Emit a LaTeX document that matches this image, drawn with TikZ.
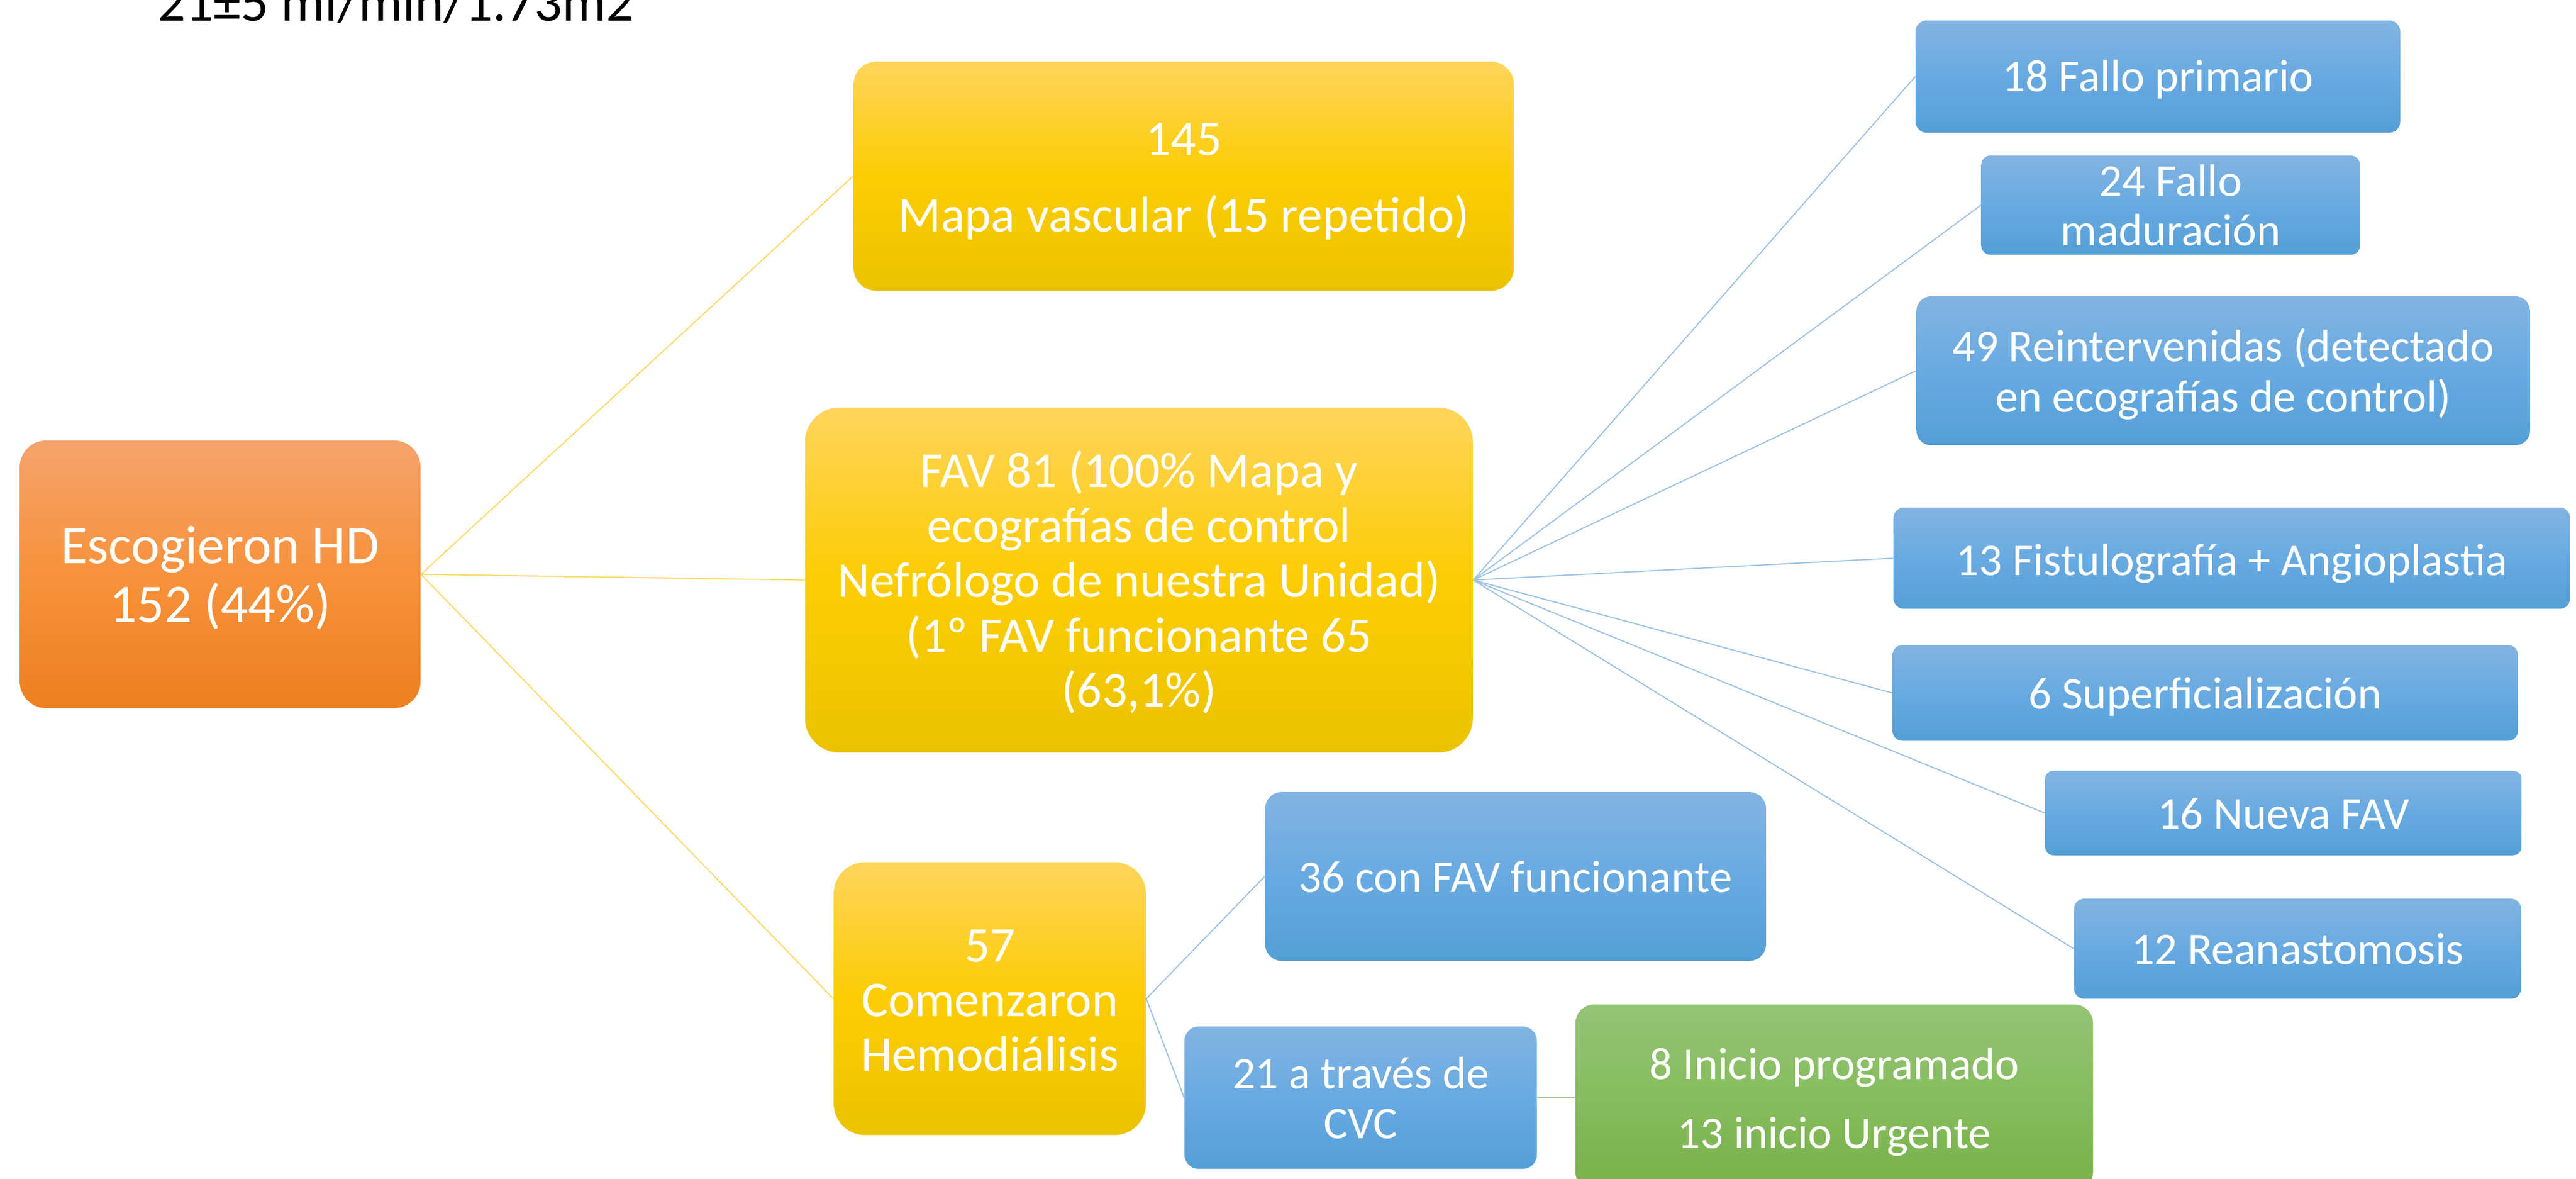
\documentclass[tikz,border=0pt]{standalone}
\usepackage{fontspec}
\setmainfont{Carlito}
\definecolor{orgT}{RGB}{245,163,108}
\definecolor{orgM}{RGB}{247,146,60}
\definecolor{orgB}{RGB}{237,127,32}
\definecolor{ylwT}{RGB}{255,212,92}
\definecolor{ylwM}{RGB}{252,205,3}
\definecolor{ylwB}{RGB}{235,195,0}
\definecolor{bluT}{RGB}{131,180,226}
\definecolor{bluM}{RGB}{104,170,225}
\definecolor{bluB}{RGB}{84,159,214}
\definecolor{grnT}{RGB}{148,196,118}
\definecolor{grnM}{RGB}{134,188,94}
\definecolor{grnB}{RGB}{120,177,74}
\definecolor{ylwLine}{RGB}{255,217,102}
\definecolor{bluLine}{RGB}{155,194,230}
\definecolor{grnLine}{RGB}{169,209,142}
% text block lowered by #1, keeping its declared size
\newcommand\lines[2]{\raisebox{-#1}[\height][\depth]{\begin{tabular}{@{}c@{}}#2\end{tabular}}}
\tikzset{
  boxbase/.style={shading=axis, draw=none, text=white, align=center, inner sep=0pt},
  obox/.style={boxbase, top color=orgT, bottom color=orgB, middle color=orgM},
  ybox/.style={boxbase, top color=ylwT, bottom color=ylwB, middle color=ylwM},
  bbox/.style={boxbase, top color=bluT, bottom color=bluB, middle color=bluM},
  gbox/.style={boxbase, top color=grnT, bottom color=grnB, middle color=grnM},
  bigfont/.style={font=\fontsize{26pt}{28.45pt}\selectfont},
  smallfont/.style={font=\fontsize{23.6pt}{26pt}\selectfont},
  ylink/.style={draw=ylwLine, line width=0.6pt},
  blink/.style={draw=bluLine, line width=0.6pt},
  glink/.style={draw=grnLine, line width=0.6pt}
}
\begin{document}
\begin{tikzpicture}[x=0.3mm, y=-0.3mm]
\useasboundingbox (0,0) rectangle (1568,717.4);
% top text
\node[anchor=base west, inner sep=0pt, font=\fontsize{28.5pt}{34pt}\selectfont] (gfr) at (96,12.7) {21±5 ml/min/1.73m2};
% left
\node[obox, minimum width=73.2mm, minimum height=48.9mm, rounded corners=4.9mm,
      font=\fontsize{28.2pt}{30.56pt}\selectfont] (esc) at (134,349.5) {\lines{1.24mm}{Escogieron HD\\152 (44\%)}};
% middle column
\node[ybox, minimum width=120.6mm, minimum height=41.85mm, rounded corners=4.2mm,
      font=\fontsize{26pt}{39.6pt}\selectfont] (mapa) at (720.5,107.25) {\lines{0.41mm}{145\\Mapa vascular (15 repetido)}};
\node[ybox, minimum width=121.95mm, minimum height=63mm, rounded corners=6.3mm,
      font=\fontsize{26pt}{28.5pt}\selectfont] (fav) at (693.25,353)
  {\lines{1.12mm}{FAV 81 (100\% Mapa y\\ecografías de control\\Nefrólogo de nuestra Unidad)\\(1º FAV funcionante 65\\(63,1\%)}};
\node[ybox, bigfont, minimum width=57mm, minimum height=49.8mm, rounded corners=5.7mm] (hd) at (602.5,607.75)
  {\lines{1.25mm}{57\\Comenzaron\\Hemodiálisis}};
% lower branch
\node[bbox, smallfont, minimum width=91.5mm, minimum height=30.84mm, rounded corners=3.1mm] (fun) at (922.5,533.4) {\lines{1.05mm}{36 con FAV funcionante}};
\node[bbox, minimum width=64.35mm, minimum height=26.01mm, rounded corners=2.6mm,
      font=\fontsize{23.6pt}{25.86pt}\selectfont] (cvc) at (828.25,668) {\lines{1.11mm}{21 a través de\\CVC}};
\node[gbox, minimum width=94.5mm, minimum height=34.02mm, rounded corners=3.4mm,
      font=\fontsize{23.6pt}{35.85pt}\selectfont] (ini) at (1116.5,668) {\lines{0.39mm}{8 Inicio programado\\13 inicio Urgente}};
% right column
\node[bbox, smallfont, minimum width=88.5mm, minimum height=20.52mm, rounded corners=2.05mm] (f18) at (1313.5,46.6) {\lines{0.93mm}{18 Fallo primario}};
\node[bbox, minimum width=69.15mm, minimum height=17.19mm, rounded corners=1.7mm,
      font=\fontsize{23.6pt}{25.78pt}\selectfont] (f24) at (1321.25,124.85) {\lines{1.05mm}{24 Fallo\\maduración}};
\node[bbox, minimum width=112.05mm, minimum height=27.21mm, rounded corners=2.7mm,
      font=\fontsize{23.6pt}{26.12pt}\selectfont] (r49) at (1353.25,225.65) {\lines{1.06mm}{49 Reintervenidas (detectado\\en ecografías de control)}};
\node[bbox, smallfont, minimum width=123.51mm, minimum height=18.48mm, rounded corners=1.85mm] (fis) at (1358.45,339.7) {\lines{1.26mm}{13 Fistulografía + Angioplastia}};
\node[bbox, smallfont, minimum width=114.18mm, minimum height=17.46mm, rounded corners=1.75mm] (sup) at (1342.3,421.7) {\lines{1.08mm}{6 Superficialización}};
\node[bbox, smallfont, minimum width=87mm, minimum height=15.45mm, rounded corners=1.55mm] (nue) at (1389.8,494.75) {\lines{1.07mm}{16 Nueva FAV}};
\node[bbox, smallfont, minimum width=81.6mm, minimum height=18.27mm, rounded corners=1.83mm] (rea) at (1398.5,577.35) {\lines{1.07mm}{12 Reanastomosis}};
% connectors
\draw[ylink] (esc.east) -- (mapa.west);
\draw[ylink] (esc.east) -- (fav.west);
\draw[ylink] (esc.east) -- (hd.west);
\foreach \t in {f18,f24,r49,fis,sup,nue,rea} \draw[blink] (fav.east) -- (\t.west);
\draw[blink] (hd.east) -- (fun.west);
\draw[blink] (hd.east) -- (cvc.west);
\draw[glink] (cvc.east) -- (ini.west);
\end{tikzpicture}
\end{document}
